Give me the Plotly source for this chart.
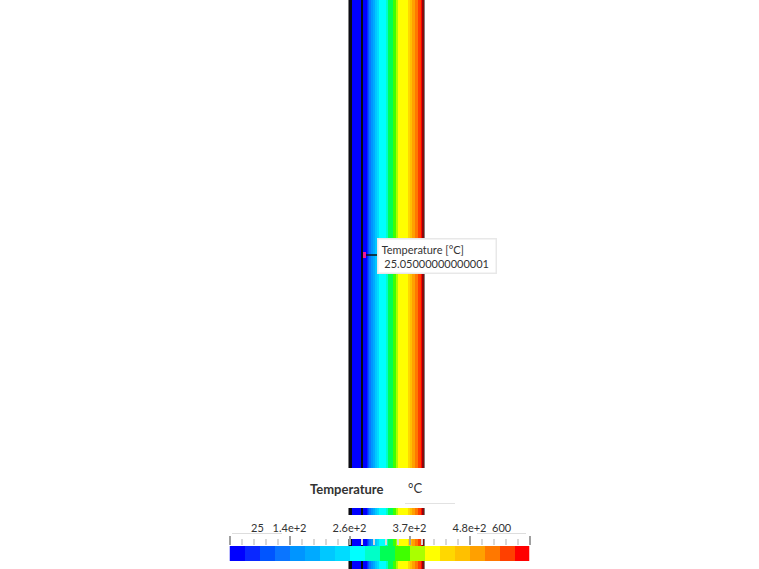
import plotly.graph_objects as go

# temperature bins of the legend bar, degC
bar_temps = [39, 68, 97, 126, 154, 183, 212, 241, 269, 298,
             327, 356, 384, 413, 442, 471, 499, 528, 557, 586]
bar_colors = ['#0000ff', '#0a28ff', '#0055ff', '#0a75ff', '#0095ff',
              '#00aaff', '#00c8ff', '#00dcff', '#00ffff', '#00ffc8',
              '#00ff55', '#40ff00', '#aaff00', '#ffff00', '#ffd800',
              '#ffc000', '#ffa000', '#ff7800', '#ff4000', '#ff0000']

tick_vals = [25, 140, 255, 370, 485, 600]
tick_text = ['', '1.4e+2', '2.6e+2', '3.7e+2', '4.8e+2', '']

# temperature across the wall, one value per column. Below 25 = edges and mesh lines
EDGE = -47
DARK = -18
BURNT = 10
wall_temps = [EDGE, DARK, DARK, DARK,
              39, 39, 39, 39, 39, 39, 39, 39, 39, DARK, DARK,
              39, 39, 39, 39, 68, 97, 126, 126, 154, 154, 183, 183, 212, 212,
              241, 241, 269, 269, 269, 269, 269, 269, 269,
              298, 298, 327, 327, 327, 327, 327, 356, 356, 356, 384, 384,
              413, 413, 413, 413, 413, 413, 413, 413, 413, 413, 442, 442, 471, 471,
              499, 499, 499, 528, 528, 528, 557, 557, 557,
              586, BURNT, BURNT, EDGE]

probe_temp = '25.05000000000001'


def stepped_scale(colors):
    n = len(colors)
    scale = []
    for i, c in enumerate(colors):
        scale.append([i / n, c])
        scale.append([(i + 1) / n, c])
    return scale


def label(text, x, y, size=11):
    return dict(text=text, xref='paper', yref='paper', x=x / 759, y=1 - y / 569,
                xanchor='center', yanchor='middle', showarrow=False,
                font=dict(family='Lato', size=size, color='#333333'))


def rule(x0, x1, y, color):
    return dict(type='line', xref='paper', yref='paper', x0=x0 / 759, x1=x1 / 759,
                y0=1 - y / 569, y1=1 - y / 569, line=dict(color=color, width=1))


fig = go.Figure()

# the wall is hidden behind the white legend panels, so it has gaps
gap = [None] * len(wall_temps)
fig.add_trace(go.Heatmap(
    z=[wall_temps, gap, wall_temps, gap, wall_temps, gap, wall_temps],
    x0=348.5, dx=1,
    y=[0, 468, 508, 515, 539, 546, 561, 569],
    zmin=25 - 3 * 28.75, zmax=600,
    colorscale=stepped_scale(['#808080', '#0a0a14', '#8c0a0a'] + bar_colors),
    showscale=False,
    hoverinfo='skip',
))

# probe leader and marker
fig.add_trace(go.Scatter(
    x=[366, 377], y=[255, 255], mode='lines',
    line=dict(color='#111111', width=1.5), hoverinfo='skip',
))
fig.add_trace(go.Scatter(
    x=[364.5, 364.5], y=[252, 258], mode='lines',
    line=dict(color='#f0189c', width=3), hoverinfo='skip',
))

# legend bar
fig.add_trace(go.Heatmap(
    z=[bar_temps],
    x0=25 + 28.75 / 2, dx=28.75,
    y=[0],
    zmin=25, zmax=600,
    colorscale=stepped_scale(bar_colors),
    showscale=False,
    hoverinfo='skip',
    xaxis='x2', yaxis='y2',
))

fig.update_layout(
    width=759, height=569,
    margin=dict(l=0, r=0, t=0, b=0),
    paper_bgcolor='white', plot_bgcolor='rgba(0,0,0,0)',
    showlegend=False,
    font=dict(family='Lato', color='#333333', size=11),
    xaxis=dict(range=[0, 759], domain=[0, 1], visible=False, fixedrange=True),
    yaxis=dict(range=[569, 0], domain=[0, 1], visible=False, fixedrange=True),
    xaxis2=dict(
        domain=[229.5 / 759, 529.5 / 759], range=[25, 600],
        anchor='y2', side='top', showgrid=False, zeroline=False, showline=False,
        tickvals=tick_vals, ticktext=tick_text,
        ticks='outside', ticklen=9, tickwidth=2, tickcolor='#a0a0a0',
        tickfont=dict(family='Lato', size=11, color='#333333'),
        minor=dict(
            tickvals=[v for v in range(25, 601, 23) if v not in tick_vals],
            ticks='outside', ticklen=6, tickwidth=2, tickcolor='#d8d8d8',
        ),
        fixedrange=True,
    ),
    yaxis2=dict(
        domain=[8 / 569, 23 / 569], anchor='x2', visible=False, fixedrange=True,
    ),
    annotations=[
        label('<b>Temperature</b>', 346.5, 489, 13),
        label('°C', 415.5, 488, 13),
        label('25', 257, 527),
        label('600', 501.5, 527),
        dict(text='Temperature [°C]<br>\u00a0' + probe_temp, x=377, y=255.5, xref='x', yref='y',
             xanchor='left', yanchor='middle', align='left', showarrow=False, width=111,
             bgcolor='white', bordercolor='#e8e8e8', borderwidth=1.5, borderpad=3,
             font=dict(family='Lato', size=11, color='#333333')),
    ],
    shapes=[
        rule(405, 455, 503.5, '#e2e2e2'),
        rule(232, 282, 533.5, '#dddddd'),
        rule(477, 526, 533.5, '#dddddd'),
    ],
)

fig.write_html("out.html", config=dict(displayModeBar=False),
               post_script="document.body.style.margin='0';")
